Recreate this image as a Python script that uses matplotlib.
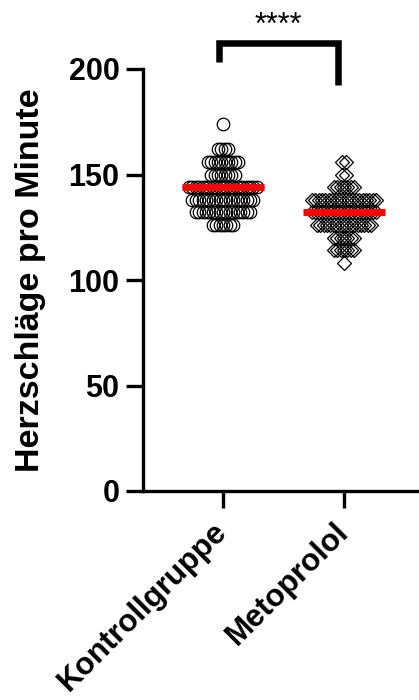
import numpy as np
import matplotlib.pyplot as plt

plt.rcParams['font.family'] = ['Liberation Sans', 'DejaVu Sans']

# binned heart rates (beats per minute) and number of animals per bin
groups = ["Kontrollgruppe", "Metoprolol"]
kontroll_bins = [126, 132, 138, 144, 150, 156, 162, 174]
kontroll_counts = [7, 17, 19, 21, 8, 10, 4, 1]
metoprolol_bins = [108, 114, 120, 126, 132, 138, 144, 150, 156]
metoprolol_counts = [1, 7, 7, 17, 20, 20, 7, 2, 2]
y_ticks = [0, 50, 100, 150, 200]
y_label = "Herzschläge pro Minute"
significance = "****"

kontroll = np.repeat(kontroll_bins, kontroll_counts)
metoprolol = np.repeat(metoprolol_bins, metoprolol_counts)

fig = plt.figure(figsize=(4.19, 7.0), dpi=100)
ax = fig.add_axes([143 / 419, 1 - 491 / 700, 1 - 143 / 419, 422 / 700])

step = 0.028


def swarm(pos, bins, counts, marker, ms):
    for b, n in zip(bins, counts):
        xs = pos + (np.arange(n) - (n - 1) / 2) * step
        ax.plot(xs, [b] * n, linestyle="none", marker=marker, ms=ms,
                mfc="none", mec="black", mew=0.9, clip_on=False, zorder=3)


swarm(0, kontroll_bins, kontroll_counts, "o", 9.0)
swarm(1, metoprolol_bins, metoprolol_counts, "D", 7.0)

for i, vals in enumerate([kontroll, metoprolol]):
    med = np.median(vals)
    ax.plot([i - 0.34, i + 0.34], [med, med], color="#ff0000", lw=5,
            solid_capstyle="butt", zorder=4)

# significance bracket
ax.plot([-0.03, -0.03, 0.95, 0.95], [203.3, 212.1, 212.1, 192.4],
        color="black", lw=4.7, clip_on=False, solid_capstyle="butt",
        solid_joinstyle="miter")
ax.text(0.46, 220.5, significance, ha="center", va="center", fontsize=22,
        clip_on=False)

ax.set_xlim(-0.661, 1.62)
ax.set_ylim(0, 200)
ax.set_yticks(y_ticks)
ax.set_xticks([0, 1])
ax.set_xticklabels(groups, rotation=45, ha="right", va="center",
                   rotation_mode="anchor", fontweight="bold")
for lab in ax.get_yticklabels():
    lab.set_fontweight("bold")

for s in ["top", "right"]:
    ax.spines[s].set_visible(False)
for s in ["left", "bottom"]:
    ax.spines[s].set_linewidth(2.4)
ax.tick_params(axis="both", length=12, width=2.4, labelsize=22)
ax.tick_params(axis="y", pad=5)
ax.tick_params(axis="x", labelsize=22.5, pad=14)

ax.set_ylabel(y_label, fontsize=24.5, fontweight="bold")
ax.yaxis.set_label_coords(-0.35, 0.5)

fig.savefig("out.png", dpi=100)
